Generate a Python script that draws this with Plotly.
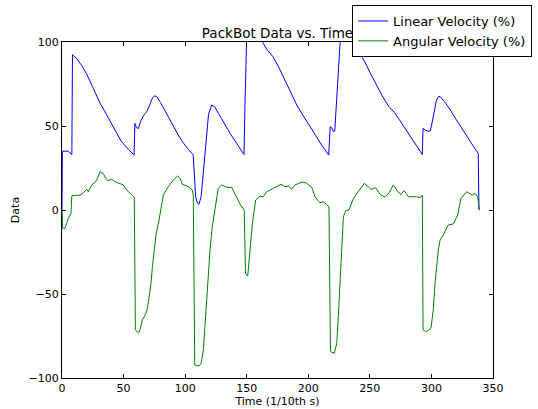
import plotly.graph_objects as go

# Linear velocity (%) vs time (1/10th s)
lin_t = [0, 0.3, 5, 8, 8.5, 12, 16, 20, 25, 31, 36, 42, 48, 54, 58.5,
         59.2, 60.5, 62, 64, 66, 68.8, 71, 73, 75, 77, 80, 85, 90, 94.4, 98, 102, 106.5,
         107.3, 108.5, 110, 111.2, 113, 115, 117, 119, 121.5, 124, 127, 132, 137, 142, 147.8,
         148.5, 149.4, 150, 153, 156, 159, 163.5, 167, 171.3, 176, 181, 186, 191, 196, 201, 206, 211, 216.6,
         217.8, 219, 220.3, 221.5, 222.5, 224, 225.8, 227, 230, 233, 236, 239, 242, 246, 250, 255, 260, 265, 270, 275.9, 280, 285, 292.6,
         293.2, 295, 297, 298.9, 300, 302, 304, 305.6, 307, 310, 315, 320, 325, 330, 334, 338, 338.6]
lin_v = [0, 35, 35, 33, 92.5, 90, 86, 81, 73, 63.5, 57, 49, 41, 36, 32.7,
         51.5, 49, 48.5, 53, 56, 58.5, 62, 66, 68, 67.5, 64, 57, 50, 44.6, 40.5, 36.5, 33,
         20, 8, 4, 3.4, 8, 25, 45, 57, 62.5, 61.5, 57.5, 51, 45, 39.5, 33,
         60, 100, 104, 108, 109, 107, 99, 95, 91.3, 85, 77, 70, 62, 56, 50, 44.5, 38.5, 32.7,
         49.6, 49, 46.6, 47, 60, 80, 99, 103, 105, 104, 100, 97, 93.3, 88, 82, 75, 68, 62, 58, 51.6, 47, 42, 33,
         48.6, 47.5, 47, 47, 50, 58, 65, 67.5, 67.5, 65, 60, 54, 48, 42, 38, 33.7, 0]

# Angular velocity (%) vs time (1/10th s)
ang_t = [0, 0.5, 2.4, 5.1, 7.3, 8.0, 14.6, 17, 20, 21.4, 24.1, 27.3, 29, 30.9, 33.5, 35, 37.1, 40.3, 43, 46, 49.8, 52.5, 58.7,
         59.6, 62, 63.5, 65.2, 66.8, 68.5, 69.6, 71, 72.3, 73.5, 74.7, 76.5, 78.8, 80.5, 82.3, 86.3, 90.4, 94, 95.8, 97.7, 102.6, 105.8, 106.6,
         107.8, 111.2, 113, 114.8, 116, 117.5, 118.8, 120.2, 122, 124.3, 126.9, 129.7, 133.7, 137.8, 140, 141.9, 145, 148,
         149, 150.8, 152.7, 154.6, 157.3, 160.8, 163.5, 166.3, 171.6, 177.9, 181.1, 183.8, 186.6, 189.2, 195.2, 198.7, 202.8, 205.5, 209.5, 212.2, 216.8,
         218, 221.1, 223.1, 224.5, 225.8, 227.2, 228.5, 230.4, 233.1, 236.6, 240.7, 245.5, 251, 254.8, 258.3, 262.3, 265.6, 269.1, 272.7, 275.3, 278, 281.3, 288.1, 290.8, 292.6,
         293.2, 296.1, 299.6, 301.5, 302.9, 305.6, 307, 309.6, 313.7, 317.8, 321.3, 324, 328.6, 333.2, 335.4, 337.6, 338.9]
ang_v = [0, -10.9, -10.9, -5, -2, 8.5, 8.9, 10, 12.3, 10.9, 14.9, 16.9, 19, 22.8, 21.8, 19.5, 17.5, 18.3, 16.9, 15.9, 14.9, 11.9, 7.5,
         -71.4, -73, -71, -65.5, -63.5, -61, -57.5, -51, -43.6, -33, -23.8, -14, -6, 2, 8.9, 13.9, 17.9, 20.2, 18.9, 15.3, 13.9, 11.9, 8.9,
         -92.3, -92.9, -91.3, -83.3, -70, -53.6, -38, -23.8, -10, 2, 12.9, 14.9, 13.5, 13.5, 10, 6.9, 3, 0,
         -37.7, -39.3, -23.8, -8, 6, 8.3, 7.9, 10.9, 12.9, 15.3, 13.9, 14.3, 12.5, 14.9, 16.7, 15.9, 13.5, 7.9, 4.3, 4.9, 2,
         -84.3, -85.3, -79.4, -62, -43.6, -22, -4, -0.4, 0, 6.9, 10.9, 15.9, 12.3, 13.3, 9.3, 7.5, 10.3, 14.9, 10.9, 9.3, 11.5, 7.9, 7.9, 7.3, 8.9,
         -71.4, -72.4, -70.4, -59.5, -43.6, -23.8, -18, -14.9, -8.9, -8.3, -3, 6.9, 10.9, 8.9, 9.9, 7.9, 0]

x_ticks = [0, 50, 100, 150, 200, 250, 300, 350]
y_ticks = [-100, -50, 0, 50, 100]
y_tick_text = ["\u2212100", "\u221250", "0", "50", "100"]

FONT = "DejaVu Sans"

fig = go.Figure()
fig.add_trace(go.Scatter(x=lin_t, y=lin_v, mode="lines", name="Linear Velocity (%)",
                         line=dict(color="#0000ff", width=1)))
fig.add_trace(go.Scatter(x=ang_t, y=ang_v, mode="lines", name="Angular Velocity (%)",
                         line=dict(color="#008000", width=1)))

axis_common = dict(showgrid=False, zeroline=False, showline=True, linecolor="black", linewidth=1,
                   mirror="ticks", ticks="inside", ticklen=4, tickcolor="black",
                   tickfont=dict(family=FONT, size=11, color="black"))

fig.update_layout(
    width=538, height=409,
    margin=dict(l=62, r=45, t=42, b=31, autoexpand=False),
    paper_bgcolor="white", plot_bgcolor="white",
    font=dict(family=FONT, color="black"),
    title=dict(text="PackBot Data vs. Time", x=0.5, xref="paper", xanchor="center",
               y=1, yref="paper", yanchor="bottom", pad=dict(b=4),
               font=dict(family=FONT, size=13.5, color="black")),
    xaxis=dict(range=[0, 350], tickvals=x_ticks, ticktext=[str(v) for v in x_ticks],
               title=dict(text="Time (1/10th s)", font=dict(family=FONT, size=11), standoff=2),
               **axis_common),
    yaxis=dict(range=[-100, 100], tickvals=y_ticks, ticktext=y_tick_text,
               title=dict(text="Data", font=dict(family=FONT, size=11), standoff=6),
               **axis_common),
    legend=dict(x=0.673, y=1.11, xanchor="left", yanchor="top", bgcolor="white",
                bordercolor="black", borderwidth=1, font=dict(family=FONT, size=13),
                tracegroupgap=0),
    showlegend=True,
)

fig.write_html("out.html", config={"displayModeBar": False},
               post_script="document.body.style.margin='0';document.body.style.overflow='hidden';")
